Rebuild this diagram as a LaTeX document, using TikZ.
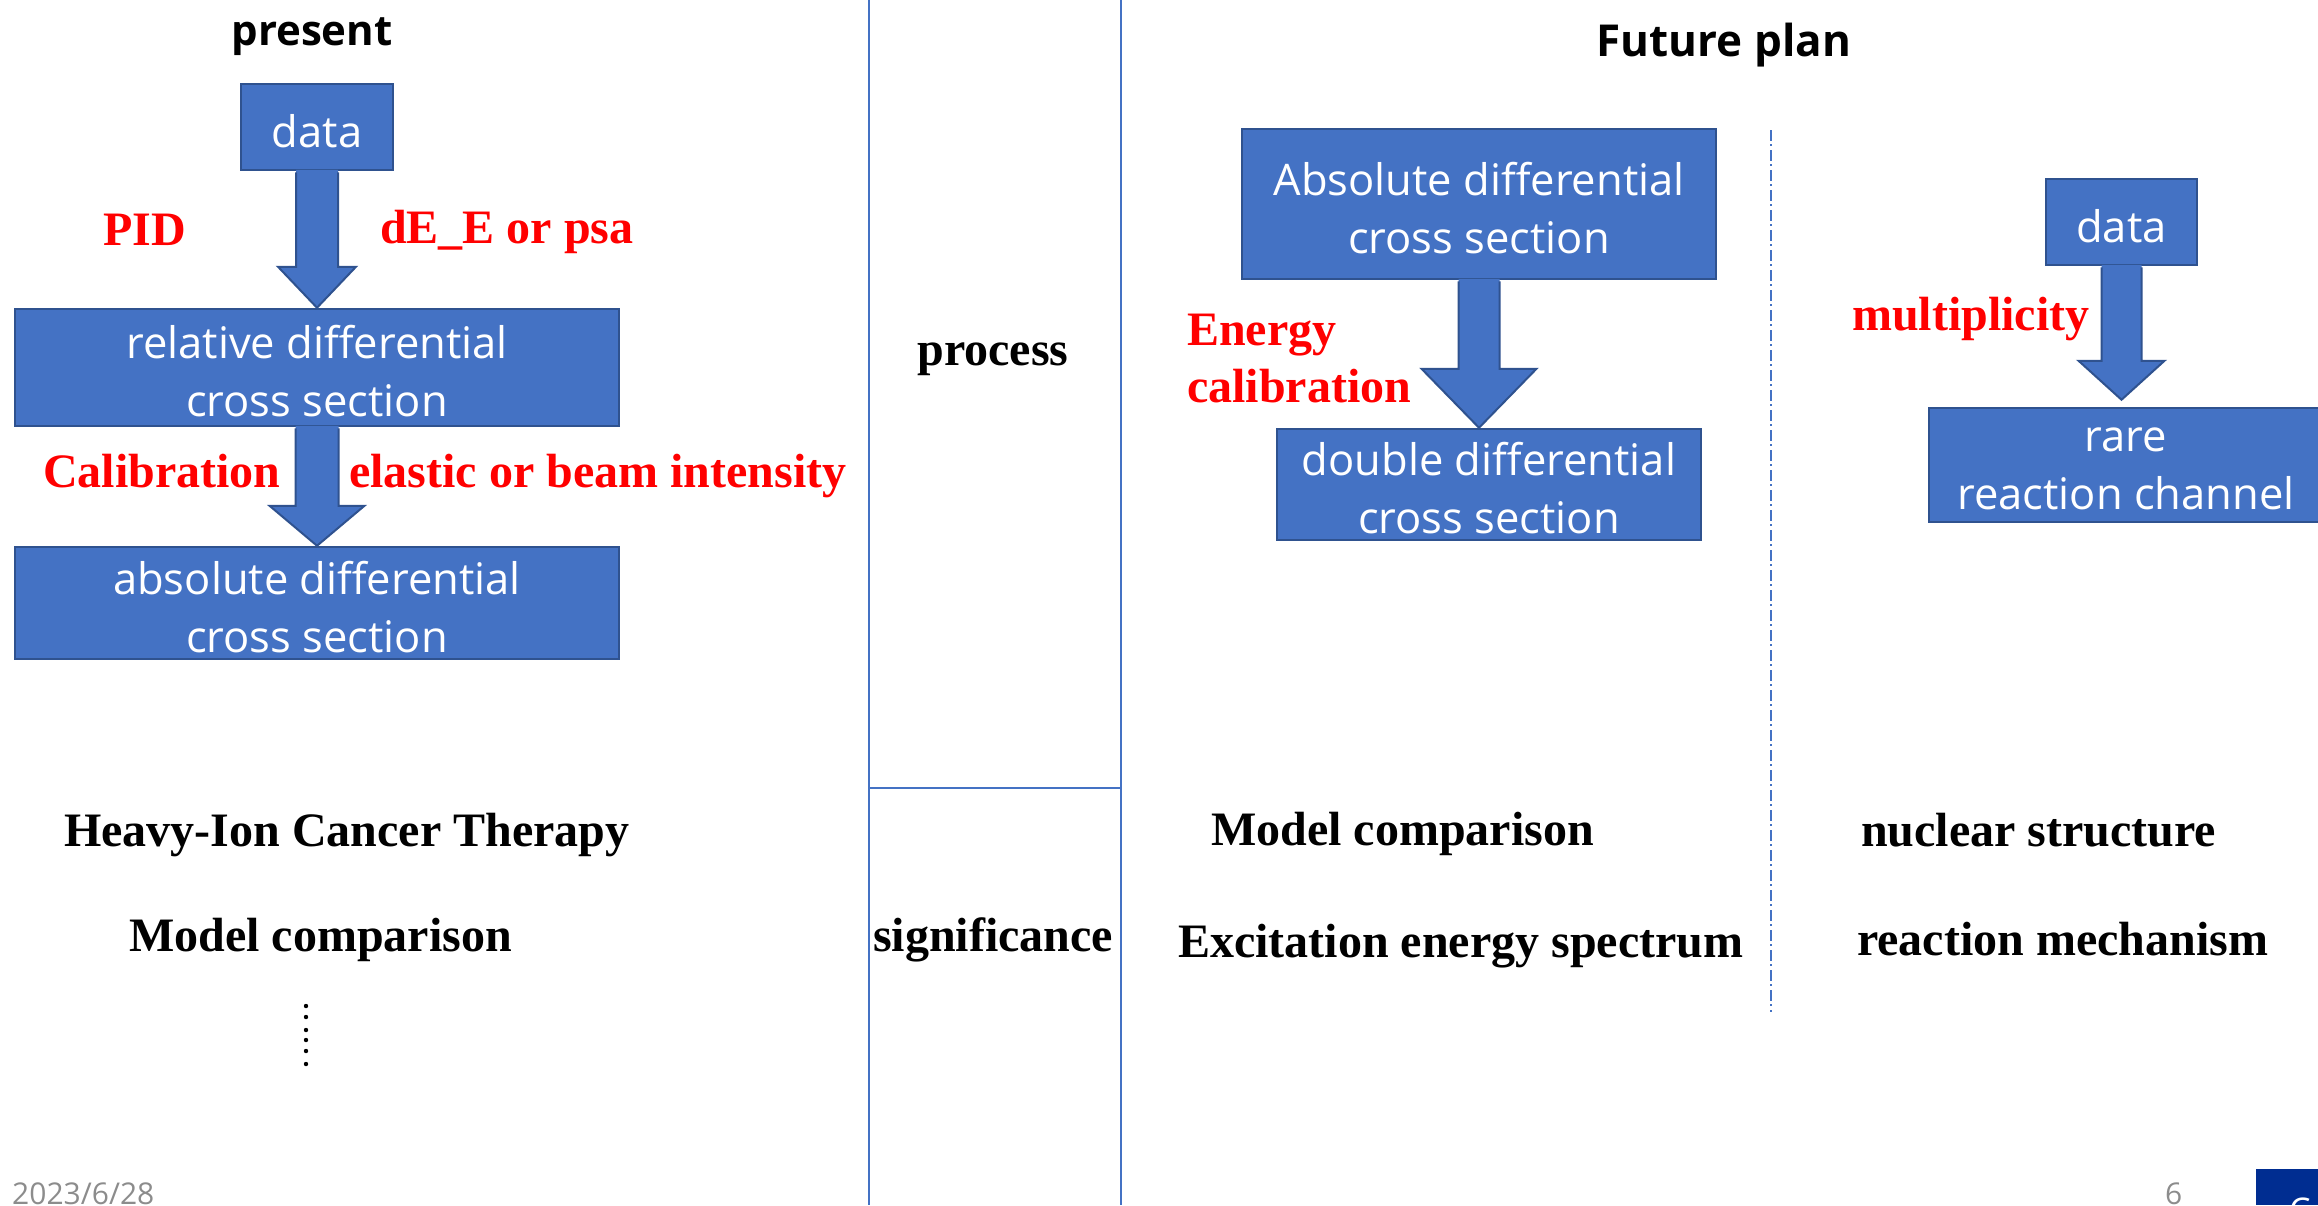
\documentclass[tikz,border=0pt]{standalone}
\usepackage{fontspec}
\setmainfont{Liberation Serif}
\newfontfamily\uifont{Open Sans}
\usetikzlibrary{calc}

\definecolor{boxblue}{HTML}{4472C4}
\definecolor{boxedge}{HTML}{2F528F}
\definecolor{navy}{RGB}{0,45,145}
\definecolor{footgrey}{HTML}{8C8C8C}

\tikzset{
  flowbox/.style={draw=boxedge, line width=2.5pt, fill=boxblue, inner sep=0pt},
  boxtext/.style={text=white, font=\uifont\fontsize{43.5}{58}\selectfont, align=center, inner sep=0pt, yshift=-4pt},
  redlabel/.style={text=red, font=\bfseries\fontsize{48}{57}\selectfont, inner sep=0pt},
  blacklabel/.style={text=black, font=\bfseries\fontsize{48}{56}\selectfont, inner sep=0pt},
  heading/.style={font=\uifont\bfseries\fontsize{44}{52}\selectfont, inner sep=0pt},
  rule/.style={draw=boxblue, line width=1.5pt},
  arrowfill/.style={fill=boxblue},
  arrowedge/.style={draw=boxedge, line width=2pt, line join=miter},
  footer/.style={text=footgrey, font=\uifont\fontsize{30}{36}\selectfont, inner sep=0pt},
}

% block arrow: #1 start, #2 tip, #3 shaft half width, #4 head half width, #5 head length
\newcommand\blockarrow[5]{%
  \fill[arrowfill] let \p1=(#1), \p2=(#2) in
    (\x1-#3pt,\y1+1.5pt) -- (\x1-#3pt,\y2+#5pt) -- (\x1-#4pt,\y2+#5pt) -- (\x1,\y2)
    -- (\x1+#4pt,\y2+#5pt) -- (\x1+#3pt,\y2+#5pt) -- (\x1+#3pt,\y1+1.5pt) -- cycle;
  \draw[arrowedge] let \p1=(#1), \p2=(#2) in
    (\x1-#3pt,\y1-1.2pt) -- (\x1-#3pt,\y2+#5pt) -- (\x1-#4pt,\y2+#5pt) -- (\x1,\y2)
    -- (\x1+#4pt,\y2+#5pt) -- (\x1+#3pt,\y2+#5pt) -- (\x1+#3pt,\y1-1.2pt);
}

\begin{document}
\begin{tikzpicture}[x=1pt,y=-1pt]
\useasboundingbox (0,0) rectangle (2318,1205);

% column rules
\draw[rule] (869,0) -- (869,1205);
\draw[rule] (1121,0) -- (1121,1205);
\draw[rule] (869,788) -- (1121,788);
\draw[draw=boxblue, line width=2pt, dash pattern=on 11pt off 3pt on 2pt off 4pt] (1771,130) -- (1771,1012);

% present: flow chart
\node[heading, font=\uifont\bfseries\fontsize{42}{50}\selectfont] (present) at (312,37) {present};
\node[flowbox, minimum width=152pt, minimum height=86pt,
  label={[boxtext]center:data}] (ldata) at (317,127) {};
\node[flowbox, minimum width=604pt, minimum height=117pt,
  label={[boxtext]center:{relative differential\\cross section}}] (lrel) at (317,367.5) {};
\node[flowbox, minimum width=604pt, minimum height=112pt,
  label={[boxtext]center:{absolute differential\\cross section}}] (labs) at (317,603) {};
\blockarrow{ldata.south}{ldata.south |- lrel.north}{21}{39}{41}
\blockarrow{lrel.south}{lrel.south |- labs.north}{21.5}{47.5}{40}

\node[redlabel] (pid) at (145,230) {PID};
\node[redlabel, anchor=west] (dee) at (380,232) {dE\_E or psa};
\node[redlabel, anchor=west] (calib) at (43,471) {Calibration};
\node[redlabel, anchor=west] (elastic) at (349,476) {elastic or beam intensity};

\node[blacklabel, anchor=west] (hict) at (64,835) {Heavy-Ion Cancer Therapy};
\node[blacklabel, anchor=west] (mcl) at (129,940) {Model comparison};
\foreach \yy in {1006,1017,1030,1040,1051,1064}
  \fill (306,\yy) circle (2.2pt);

% middle column
\node[blacklabel] (process) at (993,359) {process};
\node[blacklabel] (signif) at (993,940) {significance};

% future plan: left flow
\node[heading] (future) at (1724,45) {Future plan};
\node[flowbox, minimum width=474pt, minimum height=150pt,
  label={[boxtext]center:{Absolute differential\\cross section}}] (rabs) at (1479,204) {};
\node[flowbox, minimum width=424pt, minimum height=111pt,
  label={[boxtext]center:{double differential\\cross section}}] (rdbl) at (1489,484.5) {};
\blockarrow{rabs.south}{rabs.south |- rdbl.north}{20.5}{57.5}{59}
\node[redlabel, anchor=west, align=left] (ecal) at (1187,359) {Energy\\calibration};

% future plan: right flow
\node[flowbox, minimum width=151pt, minimum height=86pt,
  label={[boxtext]center:data}] (rdata) at (2121.5,222) {};
\node[flowbox, minimum width=394pt, minimum height=114pt,
  label={[boxtext]center:{rare\\reaction channel}}] (rare) at (2126,465) {};
\blockarrow{rdata.south}{$(rdata.south |- rare.north)+(0,-7)$}{20}{43}{39}
\node[redlabel, anchor=west] (mult) at (1852,319) {multiplicity};

% significance of the future plan
\node[blacklabel, anchor=west] (mcr) at (1211,834) {Model comparison};
\node[blacklabel, anchor=west] (exc) at (1178,946) {Excitation energy spectrum};
\node[blacklabel, anchor=west] (nuc) at (1861,830) {nuclear structure};
\node[blacklabel, anchor=west] (mech) at (1857,939) {reaction mechanism};

% footer
\node[footer, anchor=base west] (date) at (12,1204) {2023/6/28};
\node[footer, anchor=base west] (page) at (2165,1204) {6};
\begin{scope}
  \clip (2256,1169) rectangle (2318,1205);
  \fill[navy] (2256,1169) rectangle (2318,1205);
  \node[text=white, font=\uifont\fontsize{34}{40}\selectfont, inner sep=0pt, anchor=base west] (logo) at (2289,1222) {C};
\end{scope}
\end{tikzpicture}
\end{document}
